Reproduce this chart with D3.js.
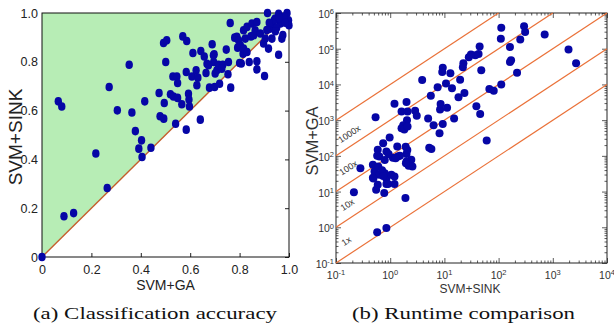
<!DOCTYPE html>
<html>
<head>
<meta charset="utf-8">
<script src="https://cdn.jsdelivr.net/npm/d3@7"></script>
<style>
  body { margin: 0; background: #fff; }
  svg { display: block; }
</style>
</head>
<body>
<svg id="fig" width="614" height="327"></svg>
<script>
// (a) classification accuracy: [SVM+GA, SVM+SINK]
const accuracy = [
  [0, 0], [0.066, 0.638], [0.080, 0.617], [0.089, 0.167], [0.128, 0.180], [0.218, 0.424],
  [0.264, 0.283], [0.272, 0.697], [0.305, 0.601], [0.353, 0.788], [0.364, 0.592], [0.378, 0.516],
  [0.392, 0.444], [0.403, 0.478], [0.405, 0.410], [0.416, 0.638], [0.441, 0.448], [0.474, 0.672],
  [0.478, 0.577], [0.493, 0.567], [0.495, 0.631], [0.492, 0.877], [0.505, 0.888], [0.501, 0.799],
  [0.530, 0.740], [0.546, 0.740], [0.549, 0.713], [0.520, 0.667], [0.532, 0.658], [0.549, 0.652],
  [0.541, 0.546], [0.566, 0.626], [0.570, 0.904], [0.586, 0.885], [0.584, 0.758], [0.593, 0.669],
  [0.595, 0.645], [0.597, 0.617], [0.584, 0.522], [0.611, 0.836], [0.607, 0.740], [0.624, 0.765],
  [0.631, 0.735], [0.627, 0.704], [0.641, 0.563], [0.643, 0.844], [0.657, 0.822], [0.668, 0.792],
  [0.664, 0.754], [0.689, 0.872], [0.678, 0.694], [0.695, 0.799], [0.697, 0.831], [0.699, 0.697],
  [0.708, 0.765], [0.715, 0.788], [0.719, 0.710], [0.732, 0.788], [0.746, 0.850], [0.753, 0.749],
  [0.755, 0.799], [0.764, 0.694], [0.762, 0.959], [0.674, 0.786], [0.701, 0.752], [0.728, 0.772],
  [0.694, 0.827], [0.780, 0.899], [0.789, 0.902], [0.796, 0.888], [0.792, 0.858], [0.800, 0.795],
  [0.803, 0.868], [0.807, 0.793], [0.814, 0.833], [0.816, 0.854], [0.816, 0.929], [0.823, 0.895],
  [0.830, 0.943], [0.830, 0.840], [0.839, 0.799], [0.846, 0.904], [0.850, 0.957], [0.857, 0.909],
  [0.863, 0.929], [0.870, 0.963], [0.870, 0.802], [0.870, 0.769], [0.884, 0.916], [0.897, 0.875],
  [0.901, 0.742], [0.904, 0.895], [0.913, 1.0], [0.917, 0.854], [0.924, 0.936], [0.931, 0.957],
  [0.931, 0.895], [0.944, 0.977], [0.958, 0.997], [0.958, 0.829], [0.965, 0.957], [0.971, 0.895],
  [0.975, 0.910], [0.974, 0.983], [0.992, 1.0], [0.998, 0.970], [1.0, 0.95], [0.981, 0.984],
  [0.940, 0.970], [0.950, 0.940], [0.920, 0.960], [0.960, 0.980], [0.985, 0.960], [0.910, 0.930],
  [0.945, 0.925]
];
const accTicks = [0, 0.2, 0.4, 0.6, 0.8, 1.0];
const accTickLabels = ['0', '0.2', '0.4', '0.6', '0.8', '1.0'];
const accPatch = [[0, 0], [0, 1], [1, 1]];
const accDiag = [[0, 0], [1, 1]];

// (b) runtime: [SVM+SINK, SVM+GA]
const runtime = [
  [112, 389000], [110, 191000], [295, 427000], [309, 295000], [251, 182000], [708, 251000],
  [1950, 95500], [2690, 38900], [162, 112000], [170, 47900], [162, 42700], [219, 21400],
  [112, 10000], [44.7, 115000], [42.7, 70800], [37.2, 66100], [30.9, 69200], [28.2, 57500],
  [22.4, 38900], [21.9, 30200], [47.9, 25100], [9.33, 29500], [9.12, 22400], [12.9, 20400],
  [19.5, 13500], [10.7, 10700], [13.8, 7760], [18.2, 4370], [23.4, 5750], [7.5, 8320],
  [3.89, 13200], [5.62, 4790], [67.6, 7410], [81.3, 6610], [38.9, 2450], [45.7, 1480],
  [8.32, 2000], [11.2, 2240], [1.2, 2880], [2.0, 3240], [2.88, 1820], [3.09, 1320],
  [5.01, 1120], [15.1, 1120], [60.3, 269], [9.33, 776], [8.13, 427], [0.537, 1200],
  [1.62, 1740], [2.09, 1740], [2.04, 1000], [1.74, 724], [1.62, 589], [1.82, 550],
  [2.09, 661], [5.25, 170], [5.75, 155], [0.977, 324], [0.741, 224], [0.589, 148],
  [0.631, 95.5], [0.851, 132], [1.35, 182], [1.38, 95.5], [1.12, 89.1], [2.0, 112],
  [2.45, 77.6], [2.0, 69.2], [2.57, 50.1], [0.282, 44.7], [0.479, 56.2], [0.513, 36.3],
  [0.479, 24.5], [0.631, 29.5], [0.794, 32.4], [0.851, 23.4], [1.05, 29.5], [1.2, 26.3],
  [0.589, 15.5], [0.851, 16.2], [1.2, 16.2], [0.55, 11.2], [0.776, 9.12], [0.214, 9.55],
  [1.91, 6.61], [0.575, 0.724], [0.851, 0.955], [1.51, 100], [0.603, 50.1], [0.708, 39.8],
  [0.933, 112], [0.575, 100], [1.26, 85.1], [0.912, 16.2], [2.19, 52.5], [1.95, 61.7],
  [0.49, 23.4], [0.741, 27.5], [6.31, 724], [8.51, 2820], [1.93, 181], [2.07, 146],
  [0.794, 76.7]
];
const speedRatios = [1, 10, 100, 1000, 10000];
const speedLabels = [
  { text: '1000x', x: 0.176, y: 409 },
  { text: '100x', x: 0.169, y: 45.9 },
  { text: '10x', x: 0.162, y: 4.25 },
  { text: '1x', x: 0.155, y: 0.41 }
];
const rtExponents = [-1, 0, 1, 2, 3, 4, 5, 6];

const DOT = '#0606a6';
const svg = d3.select('#fig');
svg.append('rect').attr('width', 614).attr('height', 327).attr('fill', '#fff');

// ---------- (a) ----------
const xA = d3.scaleLinear().domain([0, 1]).range([42, 289]);
const yA = d3.scaleLinear().domain([0, 1]).range([257, 13]);
const gA = svg.append('g');

gA.append('path')
  .datum(accPatch)
  .attr('d', d3.line().x(d => xA(d[0])).y(d => yA(d[1])).curve(d3.curveLinearClosed))
  .attr('fill', '#b7edb5');

const axA = gA.append('g').attr('transform', 'translate(0,257)')
  .call(d3.axisBottom(xA).tickValues(accTicks).tickSize(-4).tickPadding(8)
    .tickFormat((d, i) => accTickLabels[i]));
const ayA = gA.append('g').attr('transform', 'translate(42,0)')
  .call(d3.axisLeft(yA).tickValues(accTicks).tickSize(0).tickPadding(4)
    .tickFormat((d, i) => accTickLabels[i]));
gA.append('g').attr('transform', 'translate(289,0)')
  .call(d3.axisRight(yA).tickValues(accTicks).tickSize(-4).tickFormat(''));
[axA, ayA].forEach(a => a.selectAll('text')
  .attr('font-family', 'Liberation Sans, Arial, sans-serif').attr('font-size', 12.5).attr('fill', '#222'));
gA.selectAll('.domain').remove();
gA.selectAll('.tick line').attr('stroke', '#222');

gA.append('rect').attr('x', 42).attr('y', 13).attr('width', 247).attr('height', 244)
  .attr('fill', 'none').attr('stroke', '#111').attr('stroke-width', 1);

gA.append('path')
  .datum(accDiag)
  .attr('d', d3.line().x(d => xA(d[0])).y(d => yA(d[1])))
  .attr('stroke', '#c45e2c').attr('stroke-width', 1.4).attr('fill', 'none');

gA.append('g').selectAll('ellipse')
  .data(accuracy)
  .enter()
  .append('ellipse')
  .attr('cx', d => xA(d[0]))
  .attr('cy', d => yA(d[1]))
  .attr('rx', 3.7).attr('ry', 4.3)
  .attr('fill', DOT);

gA.append('text').attr('x', 165.5).attr('y', 290).attr('text-anchor', 'middle')
  .attr('font-family', 'Liberation Sans, Arial, sans-serif').attr('font-size', 14).attr('fill', '#222')
  .text('SVM+GA');
gA.append('text').attr('transform', 'translate(22,137) rotate(-90)').attr('text-anchor', 'middle')
  .attr('font-family', 'Liberation Sans, Arial, sans-serif').attr('font-size', 19).attr('fill', '#222')
  .text('SVM+SINK');

// ---------- (b) ----------
const xB = d3.scaleLog().domain([0.1, 1e4]).range([336, 607]);
const yB = d3.scaleLog().domain([0.1, 1e6]).range([263, 13]);
const gB = svg.append('g');

const majorX = rtExponents.filter(e => e <= 4).map(e => Math.pow(10, e));
const majorY = rtExponents.map(e => Math.pow(10, e));
const minorOf = majors => majors.slice(0, -1).flatMap(m => d3.range(2, 10).map(k => k * m));

function tickAxis(axis, pos, values, size) {
  return gB.append('g').attr('transform', pos)
    .call(axis.tickValues(values).tickSize(size).tickFormat(''));
}
tickAxis(d3.axisBottom(xB), 'translate(0,263)', minorOf(majorX), -2.5);
tickAxis(d3.axisBottom(xB), 'translate(0,263)', majorX, -5);
tickAxis(d3.axisTop(xB), 'translate(0,13)', minorOf(majorX), -2.5);
tickAxis(d3.axisTop(xB), 'translate(0,13)', majorX, -5);
tickAxis(d3.axisLeft(yB), 'translate(336,0)', minorOf(majorY), -2.5);
tickAxis(d3.axisLeft(yB), 'translate(336,0)', majorY, -5);
tickAxis(d3.axisRight(yB), 'translate(607,0)', minorOf(majorY), -2.5);
tickAxis(d3.axisRight(yB), 'translate(607,0)', majorY, -5);
gB.selectAll('.domain').remove();
gB.selectAll('.tick line').attr('stroke', '#333').attr('stroke-width', 0.8);

function powLabel(sel, v) {
  const e = Math.round(Math.log10(v));
  sel.append('tspan').text('10');
  sel.append('tspan').attr('font-size', 7.5).attr('dy', '-0.5em').text(e);
}
gB.append('g').selectAll('text').data(majorX).enter().append('text')
  .attr('x', d => xB(d)).attr('y', 279).attr('text-anchor', 'middle')
  .attr('font-family', 'Liberation Sans, Arial, sans-serif').attr('font-size', 10.5).attr('fill', '#333')
  .each(function (d) { powLabel(d3.select(this), d); });
gB.append('g').selectAll('text').data(majorY).enter().append('text')
  .attr('x', 334).attr('y', d => yB(d) + 5).attr('text-anchor', 'end')
  .attr('font-family', 'Liberation Sans, Arial, sans-serif').attr('font-size', 10.5).attr('fill', '#333')
  .each(function (d) { powLabel(d3.select(this), d); });

gB.append('rect').attr('x', 336).attr('y', 13).attr('width', 271).attr('height', 250)
  .attr('fill', 'none').attr('stroke', '#222').attr('stroke-width', 1);

const [x0, x1] = xB.domain();
const yMax = yB.domain()[1];
gB.append('g').selectAll('line').data(speedRatios).enter().append('line')
  .attr('x1', xB(x0)).attr('y1', k => yB(x0 * k))
  .attr('x2', k => xB(Math.min(x1, yMax / k))).attr('y2', k => yB(Math.min(x1, yMax / k) * k))
  .attr('stroke', '#ea7138').attr('stroke-width', 1.2);

const angle = -Math.atan2(yB(1) - yB(10), xB(10) - xB(1)) * 180 / Math.PI;
gB.append('g').selectAll('text').data(speedLabels).enter().append('text')
  .attr('transform', d => `translate(${xB(d.x)},${yB(d.y)}) rotate(${angle})`)
  .attr('text-anchor', 'middle').attr('dominant-baseline', 'central')
  .attr('font-family', 'Liberation Sans, Arial, sans-serif').attr('font-size', 9).attr('fill', '#333')
  .text(d => d.text);

gB.append('g').selectAll('circle')
  .data(runtime)
  .enter()
  .append('circle')
  .attr('cx', d => xB(d[0]))
  .attr('cy', d => yB(d[1]))
  .attr('r', 4)
  .attr('fill', DOT);

gB.append('text').attr('x', 470).attr('y', 293).attr('text-anchor', 'middle')
  .attr('font-family', 'Liberation Sans, Arial, sans-serif').attr('font-size', 12).attr('fill', '#333')
  .text('SVM+SINK');
gB.append('text').attr('transform', 'translate(318,141) rotate(-90)').attr('text-anchor', 'middle')
  .attr('font-family', 'Liberation Sans, Arial, sans-serif').attr('font-size', 16.5).attr('fill', '#333')
  .text('SVM+GA');

// captions
svg.append('text').attr('x', 155).attr('y', 319).attr('text-anchor', 'middle')
  .attr('font-family', 'Liberation Serif, DejaVu Serif, serif').attr('font-size', 17.5).attr('fill', '#111')
  .attr('textLength', 244).attr('lengthAdjust', 'spacingAndGlyphs')
  .text('(a) Classification accuracy');
svg.append('text').attr('x', 463.5).attr('y', 319).attr('text-anchor', 'middle')
  .attr('font-family', 'Liberation Serif, DejaVu Serif, serif').attr('font-size', 17.5).attr('fill', '#111')
  .attr('textLength', 223).attr('lengthAdjust', 'spacingAndGlyphs')
  .text('(b) Runtime comparison');
</script>
</body>
</html>
